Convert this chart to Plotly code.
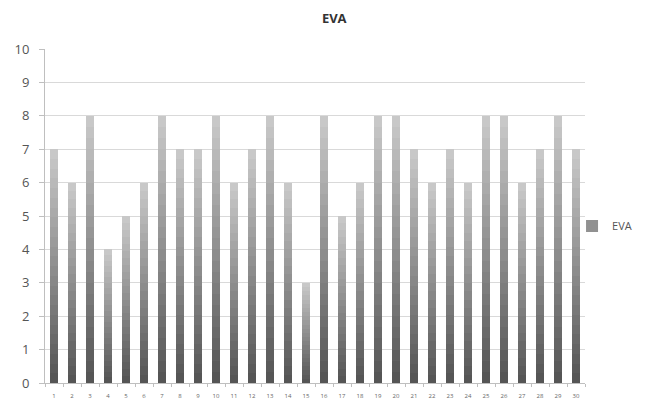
import plotly.graph_objects as go

categories = [str(i) for i in range(1, 31)]
eva = [7, 6, 8, 4, 5, 6, 8, 7, 7, 8, 6, 7, 8, 6, 3, 8, 5, 6, 8, 8, 7, 6, 7, 6, 8, 8, 6, 7, 8, 7]
series_name = "EVA"
y_ticks = list(range(0, 11))

N = 24
dark = (85, 85, 85)
light = (200, 200, 200)

fig = go.Figure()
for k in range(N):
    t = k / (N - 1)
    c = tuple(int(round(dark[i] + (light[i] - dark[i]) * t)) for i in range(3))
    col = "rgb(%d,%d,%d)" % c
    fig.add_trace(go.Bar(
        x=categories, y=[v / N for v in eva],
        marker=dict(color=col, line=dict(width=0)),
        name=series_name, legendgroup="eva",
        showlegend=(k == N // 2), hoverinfo="skip" if k else "all",
    ))

fig.update_layout(
    barmode="stack", bargap=0.52,
    width=649, height=401,
    margin=dict(l=45, r=64, t=49, b=18, autoexpand=False),
    paper_bgcolor="white", plot_bgcolor="white",
    font=dict(family="Open Sans, Liberation Sans, sans-serif", color="#555555"),
    title=dict(text="<b>EVA</b>", x=0.515, xanchor="center", y=0.955, yanchor="middle",
               font=dict(size=13, color="#333333")),
    legend=dict(x=0.976, y=0.47, xanchor="left", yanchor="middle",
                font=dict(size=11, color="#555555"), itemwidth=30,
                bgcolor="rgba(0,0,0,0)"),
    showlegend=True,
)
fig.update_xaxes(type="category", tickfont=dict(size=6, color="#666666"),
                 showline=True, linecolor="#bfbfbf", linewidth=1,
                 ticks="outside", ticklen=3, tickcolor="#bfbfbf", showgrid=False,
                 tickson="boundaries", ticklabelstandoff=7)
fig.update_yaxes(range=[0, 10], tickvals=y_ticks, tickfont=dict(size=13, color="#555555"),
                 showgrid=True, gridcolor="#d9d9d9", gridwidth=1,
                 showline=True, linecolor="#bfbfbf", linewidth=1,
                 ticks="outside", ticklen=5, tickcolor="#bfbfbf", zeroline=False,
                 ticklabelstandoff=7)

fig.write_html("out.html", config={"displayModeBar": False},
               post_script="document.body.style.margin='0';document.body.style.overflow='hidden';")
